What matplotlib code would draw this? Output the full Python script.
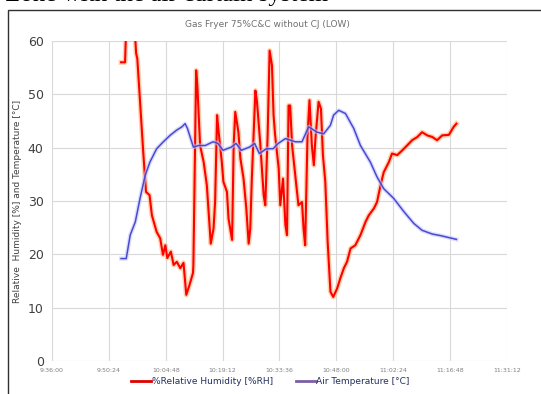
import matplotlib
matplotlib.use('Agg')
import matplotlib.pyplot as plt
from matplotlib.lines import Line2D
from matplotlib.patches import Rectangle

# minutes after 9:36:00
rh_min = [17.5, 18.5, 18.8, 20.8, 21.3, 21.6, 22.3, 23.1, 23.8, 24.7, 25.3, 26.5, 27.4, 28.1, 28.7,
          29.2, 30.1, 30.8, 31.6, 32.5, 33.3, 34.0, 34.8, 35.7, 35.8, 36.5, 36.8, 37.5, 38.4, 39.2,
          39.6, 40.2, 40.9, 41.3, 41.8, 42.2, 43.0, 43.4, 44.3, 44.7, 45.6, 46.0, 46.4, 47.2, 47.7,
          48.5, 49.2, 49.8, 50.2, 50.6, 51.5, 51.9, 52.7, 53.6, 54.0, 54.6, 55.1, 55.7, 56.1, 56.5,
          57.4, 57.8, 58.5, 59.1, 59.5, 59.9, 60.3, 60.8, 61.6, 62.4, 63.3, 63.7, 64.1, 64.7, 65.2,
          65.8, 66.3, 66.7, 67.5, 68.1, 68.6, 69.2, 69.8, 70.5, 71.2, 72.2, 73.0, 73.9, 74.7, 75.6,
          76.8, 78.1, 79.4, 80.2, 81.5, 82.3, 83.2, 84.0, 85.3, 86.1, 87.4, 88.7, 89.9, 91.2, 92.5,
          93.7, 95.0, 96.3, 97.5, 98.8, 100.5, 101.7, 102.4]
rh = [56.0, 56.0, 63.0, 64.0, 57.7, 56.7, 48.6, 39.2, 31.7, 31.1, 27.3, 24.2, 23.0, 19.9, 21.7,
      19.3, 20.5, 18.0, 18.6, 17.4, 18.4, 12.4, 14.2, 16.5, 18.0, 54.5, 51.7, 40.4, 37.3, 33.0,
      28.6, 22.0, 24.8, 29.8, 46.1, 42.9, 37.3, 33.6, 31.7, 26.7, 22.7, 40.4, 46.7, 42.9, 38.0,
      34.2, 28.6, 22.0, 24.8, 34.2, 50.7, 48.6, 41.1, 31.1, 29.2, 42.3, 58.2, 55.4, 46.1, 42.3,
      36.1, 29.2, 34.2, 25.5, 23.6, 47.9, 47.9, 40.4, 34.8, 29.2, 29.8, 24.8, 21.7, 42.3, 48.9,
      40.4, 36.7, 41.7, 48.6, 47.3, 38.6, 33.6, 22.3, 13.0, 12.0, 13.6, 15.5, 17.4, 18.6, 21.1,
      21.7, 23.6, 26.1, 27.3, 28.6, 29.8, 33.0, 35.4, 37.3, 38.9, 38.6, 39.5, 40.4, 41.4, 42.0,
      42.9, 42.3, 42.0, 41.4, 42.3, 42.4, 43.9, 44.5]

temp_min = [17.5, 18.8, 19.8, 21.1, 22.3, 23.6, 24.8, 26.5, 28.2, 29.9, 31.6, 32.9, 33.7, 34.3,
            35.8, 37.1, 38.8, 40.8, 42.0, 43.3, 45.4, 46.6, 47.9, 50.0, 51.3, 52.5, 54.3, 56.0,
            57.3, 59.1, 61.6, 63.3, 65.0, 67.1, 68.8, 70.5, 71.3, 72.6, 74.3, 76.4, 78.1, 80.6,
            82.3, 84.0, 86.5, 89.1, 91.6, 93.7, 96.3, 98.4, 102.4]
temp = [19.2, 19.2, 23.6, 26.1, 30.5, 34.8, 37.3, 39.8, 41.1, 42.3, 43.3, 43.9, 44.5, 43.6,
        40.1, 40.4, 40.4, 41.1, 40.8, 39.5, 40.1, 40.8, 39.5, 40.1, 40.8, 38.9, 39.8, 39.8,
        40.8, 41.7, 41.1, 41.1, 43.9, 42.9, 42.6, 44.2, 46.1, 47.0, 46.4, 43.6, 40.4, 37.3,
        34.5, 32.3, 30.5, 28.0, 25.8, 24.5, 23.8, 23.5, 22.8]

tick_labels = ['9:36:00', '9:50:24', '10:04:48', '10:19:12', '10:33:36',
               '10:48:00', '11:02:24', '11:16:48', '11:31:12']
tick_pos = [i * 14.4 for i in range(len(tick_labels))]

fig = plt.figure(figsize=(5.41, 3.94), dpi=100)
ax = fig.add_axes([0.0961, 0.0838, 0.8410, 0.8122])

# soft glow under the lines
ax.plot(rh_min, rh, color='#FFB27A', lw=3.6, alpha=0.6, solid_joinstyle='round')
ax.plot(rh_min, rh, color='#FF0000', lw=1.5)
ax.plot(temp_min, temp, color='#C4C4FF', lw=3.0, alpha=0.6, solid_joinstyle='round')
ax.plot(temp_min, temp, color='#4A4AD0', lw=1.1)

ax.set_xlim(tick_pos[0], tick_pos[-1])
ax.set_ylim(0, 60)
ax.set_xticks(tick_pos)
ax.set_xticklabels(tick_labels, fontsize=4.5, color='#808080')
ax.set_yticks(range(0, 61, 10))
ax.tick_params(axis='y', labelsize=9, colors='#404040', length=0, pad=6)
ax.tick_params(axis='x', length=0, pad=5)
ax.grid(True, color='#D9D9D9', lw=0.8)
ax.set_axisbelow(True)
for s in ax.spines.values():
    s.set_visible(False)

ax.set_ylabel('Relative  Humidity [%] and Temperature [°C]', fontsize=6.5, color='#404040', labelpad=4)
fig.text(0.495, 0.937, 'Gas Fryer 75%C&C without CJ (LOW)', ha='center', va='center',
         fontsize=6.5, color='#707070')

handles = [Line2D([], [], color='#E00000', lw=2),
           Line2D([], [], color='#7A5FA8', lw=2)]
fig.legend(handles, ['%Relative Humidity [%RH]', 'Air Temperature [°C]'],
           loc='center', bbox_to_anchor=(0.5, 0.032), ncol=2, frameon=False,
           fontsize=6.5, handlelength=2.2, handletextpad=0.1, columnspacing=2.5,
           labelcolor='#203060')

# chart frame and cut-off caption above it
fig.patches.append(Rectangle((8 / 541, -0.1), 1.2, 1.1 - 10 / 394, transform=fig.transFigure,
                             fill=False, edgecolor='#303030', lw=1.0))
fig.text(5 / 541, 1 - 1.2 / 394, 'Zone with the air curtain system', fontsize=18,
         fontfamily='Liberation Serif', va='baseline', ha='left')

fig.savefig('out.png', dpi=100)
